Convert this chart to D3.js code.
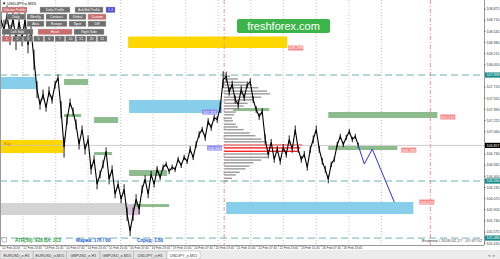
<!DOCTYPE html>
<html lang="ru">
<head>
<meta charset="UTF-8">
<title>USDJPY,e,M15</title>
<script src="https://d3js.org/d3.v7.min.js"></script>
<style>
  body { margin: 0; background: #fff; }
  svg { display: block; font-family: "Liberation Sans", Arial, sans-serif; }
</style>
</head>
<body>
<svg id="chart" width="500" height="259"></svg>
<script>
// closes sampled every 9 M15 bars
const closes = [
  108.713, 108.566, 108.787, 108.492, 108.742, 108.418, 108.683, 108.448, 108.713, 108.345,
  108.566, 108.124, 107.682, 107.461, 107.608, 107.417, 107.652, 107.534, 107.755, 107.858,
  107.387, 106.827, 107.240, 107.490, 107.358, 107.166, 106.871, 107.092, 106.798, 106.945,
  106.503, 106.650, 106.282, 106.429, 106.577, 106.768, 106.356, 106.503, 106.135, 106.282,
  106.061, 106.208, 105.840, 105.590, 105.840, 106.061, 105.914, 106.208, 106.356, 106.135,
  106.429, 106.282, 106.503, 106.385, 106.533, 106.577, 106.474, 106.533, 106.503, 106.650,
  106.562, 106.680, 106.621, 106.798, 106.680, 106.871, 107.019, 107.092, 106.975, 107.210,
  107.122, 107.269, 107.240, 107.417, 107.829, 107.873, 107.652, 107.755, 107.534, 107.461,
  107.682, 107.564, 107.755, 107.800, 107.534, 107.387, 107.284, 107.358, 106.945, 106.724,
  106.901, 106.650, 106.798, 106.621, 106.827, 106.724, 106.945, 106.798, 107.092, 106.798,
  106.650, 106.724, 106.533, 106.798, 106.945, 107.092, 106.798, 106.621, 106.503, 106.356,
  106.577, 106.650, 106.871, 106.989, 106.871, 106.975, 107.063, 106.945, 106.989, 106.857
];
// high-low span of each 9-bar block
const spans = [
  0.25, 0.30, 0.28, 0.30, 0.25, 0.30, 0.28, 0.25, 0.30, 0.25,
  0.20, 0.30, 0.25, 0.15, 0.15, 0.12, 0.15, 0.12, 0.12, 0.10,
  0.25, 0.30, 0.15, 0.12, 0.12, 0.15, 0.15, 0.12, 0.15, 0.12,
  0.15, 0.12, 0.15, 0.12, 0.12, 0.12, 0.15, 0.12, 0.12, 0.12,
  0.12, 0.15, 0.20, 0.15, 0.20, 0.15, 0.15, 0.12, 0.12, 0.12,
  0.10, 0.10, 0.10, 0.08, 0.08, 0.08, 0.08, 0.08, 0.08, 0.08,
  0.08, 0.08, 0.08, 0.10, 0.08, 0.10, 0.10, 0.08, 0.10, 0.10,
  0.10, 0.10, 0.10, 0.15, 0.25, 0.15, 0.12, 0.12, 0.12, 0.12,
  0.12, 0.10, 0.10, 0.10, 0.10, 0.10, 0.10, 0.10, 0.15, 0.12,
  0.10, 0.10, 0.10, 0.10, 0.10, 0.10, 0.12, 0.10, 0.12, 0.10,
  0.10, 0.10, 0.10, 0.10, 0.12, 0.12, 0.10, 0.10, 0.10, 0.12,
  0.08, 0.08, 0.08, 0.08, 0.08, 0.08, 0.08, 0.08, 0.08, 0.08
];
const sampleStep = 9;

const priceTicks = [108.875, 108.710, 108.545, 108.380, 108.215, 108.050, 107.885, 107.720,
  107.555, 107.390, 107.225, 107.060, 106.895, 106.730, 106.565, 106.400, 106.235, 106.070,
  105.905, 105.740, 105.575, 105.410];

const timeLabels = ["12 Feb 2018", "12 Feb 23:45", "13 Feb 15:45", "14 Feb 07:45", "14 Feb 23:45",
  "15 Feb 15:45", "16 Feb 07:45", "16 Feb 23:45", "19 Feb 15:45", "20 Feb 07:45", "20 Feb 23:45",
  "21 Feb 15:45", "22 Feb 07:45", "22 Feb 23:45", "23 Feb 15:45", "26 Feb 07:45", "26 Feb 23:45"];
const barsPerLabel = 64;
const dayLines = [66, 164, 261, 359, 456, 554, 651, 749, 846, 945, 1043, 1140];
const sessionLines = [669, 1287];

// zones: [fromBar, toBar, high, low]
const grayZones = [[-3, 381, 106.004, 105.826]];
const thistleZones = [[381, 417, 105.989, 105.826]];
const yellowZones = [[381, 858, 108.468, 108.298], [-3, 186, 106.936, 106.744]];
const blueZones = [[-3, 105, 107.869, 107.691], [384, 663, 107.528, 107.336], [675, 1236, 106.019, 105.841]];
const greenZones = [[189, 261, 107.839, 107.750], [189, 240, 107.321, 107.277], [279, 351, 107.277, 107.188],
  [279, 333, 106.759, 106.714], [384, 498, 106.493, 106.404], [396, 504, 105.989, 105.945],
  [696, 804, 107.410, 107.365], [981, 1308, 107.351, 107.262], [981, 1188, 106.848, 106.788]];

// zone price tags
const redTags = [[861, 108.298], [1317, 107.277], [1200, 106.788], [1254, 106.019]];
const blueTags = [[603, 107.351], [618, 106.818]];

// volume profile of the last session
const profilePrices = [107.88, 107.84, 107.79, 107.75, 107.71, 107.66, 107.62, 107.57, 107.53, 107.48,
  107.44, 107.40, 107.35, 107.31, 107.26, 107.22, 107.17, 107.13, 107.09, 107.04, 107.00, 106.95,
  106.91, 106.86, 106.82, 106.77, 106.73, 106.68, 106.64, 106.60, 106.55, 106.51, 106.46, 106.42,
  106.37, 106.33];
const profileVolumes = [6, 14, 22, 28, 35, 44, 47, 38, 30, 24, 20, 16, 12, 10, 8, 9, 12, 14, 20, 26,
  32, 38, 44, 80, 78, 76, 47, 44, 38, 30, 26, 22, 16, 12, 8, 4];
const pocLevel = 60;

// forecast path
const forecastBars = [1071, 1089, 1113, 1179];
const forecastPrices = [106.857, 106.581, 106.803, 106.019];

const levelPrices = [107.898, 106.330, 105.486];

const svg = d3.select("#chart");
const plotRight = 484, plotBottom = 245;

const x = d3.scaleLinear().domain([0, barsPerLabel]).range([1, 22.35]);
const y = d3.scaleLinear().domain([108.875, 105.410]).range([9, 243.2]);

svg.append("rect").attr("width", 500).attr("height", 259).attr("fill", "#fff");

const plot = svg.append("g");
plot.append("clipPath").attr("id", "clip").append("rect")
  .attr("x", 0).attr("y", 0).attr("width", plotRight).attr("height", plotBottom);
const g = plot.append("g").attr("clip-path", "url(#clip)");

// day grid
g.selectAll(".day").data(dayLines).join("line")
  .attr("x1", d => x(d)).attr("x2", d => x(d)).attr("y1", 0).attr("y2", plotBottom)
  .attr("stroke", "#b4b4b4").attr("stroke-width", 0.8).attr("stroke-dasharray", "1,2");

// zones
function drawZones(list, color) {
  g.selectAll(null).data(list).join("rect")
    .attr("x", d => x(d[0])).attr("width", d => x(d[1]) - x(d[0]))
    .attr("y", d => y(d[2])).attr("height", d => y(d[3]) - y(d[2]))
    .attr("fill", color);
}
drawZones(grayZones, "#d3d3d3");
drawZones(thistleZones, "#d8bfd8");
drawZones(yellowZones, "#ffd700");
drawZones(blueZones, "#87ceeb");
drawZones(greenZones, "#8fbc8f");

// session lines
g.selectAll(".sess").data(sessionLines).join("line")
  .attr("x1", d => x(d)).attr("x2", d => x(d)).attr("y1", 0).attr("y2", plotBottom)
  .attr("stroke", "#ff8080").attr("stroke-width", 0.9).attr("stroke-dasharray", "4,2,1,2");

// volume profile
const vol = d3.scaleLinear().domain([0, 80]).range([0, 78]);
const base = x(sessionLines[0]);
g.selectAll(".vp").data(profilePrices).join("rect")
  .attr("x", base).attr("y", d => y(d) - 0.7)
  .attr("width", (d, i) => vol(profileVolumes[i])).attr("height", 1.4)
  .attr("fill", (d, i) => profileVolumes[i] > pocLevel ? "#ff2020" : "#9a9a9a");

// level lines
g.selectAll(".lvl").data(levelPrices).join("line")
  .attr("x1", 0).attr("x2", plotRight).attr("y1", d => y(d)).attr("y2", d => y(d))
  .attr("stroke", "#6fb3b3").attr("stroke-width", 1).attr("stroke-dasharray", "7,4");

// current price line
const last = closes[closes.length - 1];
g.append("line").attr("x1", 0).attr("x2", plotRight).attr("y1", y(last)).attr("y2", y(last))
  .attr("stroke", "#c0c0c0").attr("stroke-width", 0.8);

// price: block ranges + close line
g.selectAll(".bar").data(closes).join("line")
  .attr("x1", (d, i) => x(i * sampleStep)).attr("x2", (d, i) => x(i * sampleStep))
  .attr("y1", (d, i) => y(d + spans[i] / 2)).attr("y2", (d, i) => y(d - spans[i] / 2))
  .attr("stroke", "#000").attr("stroke-width", 0.9);
const line = d3.line().x((d, i) => x(i * sampleStep)).y(d => y(d));
g.append("path").datum(closes).attr("d", line)
  .attr("fill", "none").attr("stroke", "#000").attr("stroke-width", 1.1);

// forecast
g.append("path").datum(forecastBars.map((b, i) => [b, forecastPrices[i]]))
  .attr("d", d3.line().x(d => x(d[0])).y(d => y(d[1])))
  .attr("fill", "none").attr("stroke", "#3030ee").attr("stroke-width", 1);

// tags
function tag(list, fill) {
  const t = g.selectAll(null).data(list).join("g")
    .attr("transform", d => `translate(${x(d[0])},${y(d[1])})`);
  t.append("rect").attr("x", 0).attr("y", -2.5).attr("width", 15).attr("height", 5).attr("fill", fill);
  t.append("text").attr("x", 7.5).attr("y", 1.5).attr("text-anchor", "middle")
    .attr("font-size", 3.8).attr("fill", "#fff").text(d => d[1].toFixed(3));
}
tag(redTags, "#f58a8a");
tag(blueTags, "#8c8cf0");

g.append("text").attr("x", 4).attr("y", y(106.87)).attr("font-size", 4).attr("fill", "#e07000").text("Buy");

// watermark
const wm = svg.append("g").attr("transform", "translate(237,19)");
wm.append("rect").attr("width", 93).attr("height", 14).attr("rx", 2).attr("fill", "#3bb54a");
wm.append("text").attr("x", 46.5).attr("y", 10.5).attr("text-anchor", "middle")
  .attr("font-size", 11).attr("fill", "#fff").text("freshforex.com");

// frame
svg.append("line").attr("x1", plotRight + 0.5).attr("x2", plotRight + 0.5).attr("y1", 0).attr("y2", plotBottom)
  .attr("stroke", "#9a9a9a");
svg.append("line").attr("x1", 0).attr("x2", plotRight).attr("y1", plotBottom + 0.5).attr("y2", plotBottom + 0.5)
  .attr("stroke", "#9a9a9a");
svg.append("line").attr("x1", 0.5).attr("x2", 0.5).attr("y1", 0).attr("y2", plotBottom).attr("stroke", "#9a9a9a");

// price axis
const specials = levelPrices.concat([last]);
const ticks = priceTicks.filter(p => specials.every(s => Math.abs(y(s) - y(p)) > 3));
const ax = svg.append("g");
ax.selectAll(".pt").data(ticks).join("line")
  .attr("x1", plotRight).attr("x2", plotRight + 1.5).attr("y1", d => y(d)).attr("y2", d => y(d)).attr("stroke", "#666");
ax.selectAll(".pl").data(ticks).join("text")
  .attr("x", 499.5).attr("y", d => y(d) + 1.3).attr("text-anchor", "end")
  .attr("font-size", 3.6).attr("fill", "#333").text(d => d.toFixed(3));
const lab = ax.selectAll(".sl").data(specials).join("g")
  .attr("transform", d => `translate(${plotRight + 1},${y(d)})`);
lab.append("rect").attr("y", -2.6).attr("width", 15).attr("height", 5.2)
  .attr("fill", (d, i) => i === specials.length - 1 ? "#000" : "#1a8c8c");
lab.append("text").attr("x", 14.5).attr("y", 1.3).attr("text-anchor", "end")
  .attr("font-size", 3.6).attr("fill", "#fff").text(d => d.toFixed(3));

// time axis
const tx = svg.append("g");
tx.selectAll("line").data(timeLabels).join("line")
  .attr("x1", (d, i) => x(i * barsPerLabel)).attr("x2", (d, i) => x(i * barsPerLabel))
  .attr("y1", plotBottom).attr("y2", plotBottom + 1.5).attr("stroke", "#666");
tx.selectAll("text").data(timeLabels).join("text")
  .attr("x", (d, i) => x(i * barsPerLabel) + 1).attr("y", plotBottom + 4)
  .attr("font-size", 3.2).attr("fill", "#333").text(d => d);

// header and indicator buttons
svg.append("text").attr("x", 2).attr("y", 4.5).attr("font-size", 4.2).attr("fill", "#000").text("▼ USDJPY,e,M15");

const buttons = [
  [2, 7, 25, "Volume Profile", "r"], [40, 7, 30, "Delta Profile", "g"], [75, 7, 28, "Ask/Bid Profile", "g"],
  [106, 7, 9, "1-3", "b"],
  [7, 14, 18, "Daily", "g"], [27, 14, 17, "Weekly", "g"], [46, 14, 21, "Contract", "g"], [69, 14, 17, "Global", "g"],
  [88, 14, 18, "Custom", "r"],
  [27, 21, 17, "Asia", "g"], [46, 21, 21, "Europe", "g"], [69, 21, 17, "Nyse", "g"], [88, 21, 18, "Diff", "g"],
  [2, 29, 31, "Left Side", "g"], [38, 29, 34, "Heart", "r"], [74, 29, 30, "Right Side", "g"]
];
const sizes = ["1", "2", "3", "5", "6", "7", "10", "15", "20", "31"];
sizes.forEach((s, i) => buttons.push([2 + i * 10.6, 36, 9.6, s, i === 0 ? "r" : "g"]));
const colors = { r: "#c86c6c", g: "#6e6e6e", b: "#4a4ad0" };
const bt = svg.append("g").selectAll("g").data(buttons).join("g")
  .attr("transform", d => `translate(${d[0]},${d[1]})`);
bt.append("rect").attr("width", d => d[2]).attr("height", 5.6)
  .attr("fill", d => colors[d[4]]).attr("stroke", "#bdbdbd").attr("stroke-width", 0.4);
bt.append("text").attr("x", d => d[2] / 2).attr("y", 4).attr("text-anchor", "middle")
  .attr("font-size", 3.4).attr("fill", "#fff").text(d => d[3]);

// info line
const info = svg.append("g").attr("font-size", 4.6).attr("font-weight", "bold");
info.append("rect").attr("x", 2).attr("y", 237.5).attr("width", 4.5).attr("height", 4.5)
  .attr("fill", "#fff").attr("stroke", "#888").attr("stroke-width", 0.5);
info.append("text").attr("x", 15).attr("y", 242).attr("fill", "#2a9a3a").text("ATR(50): 928  Вл: 313");
info.append("text").attr("x", 76).attr("y", 242).attr("fill", "#1e64d2").text("Маржа: 176 / 88");
info.append("text").attr("x", 137).attr("y", 242).attr("fill", "#1e64d2").text("Спред: 1.60");
svg.append("text").attr("x", 482).attr("y", 242).attr("text-anchor", "end").attr("font-size", 4.2)
  .attr("fill", "#444").text("Вторник / 2018.02.27 - 07:47:52");

// tabs
svg.append("rect").attr("x", 0).attr("y", 250).attr("width", 500).attr("height", 9).attr("fill", "#ececec");
const tabs = ["EURUSD_e,H1", "EURUSD_e,M15", "GBPUSD_e,H1", "GBPUSD_e,M15", "USDJPY_e,H1", "USDJPY_e,M15"];
const tb = svg.append("g").selectAll("g").data(tabs).join("g")
  .attr("transform", (d, i) => `translate(${i * 33.4},251)`);
tb.append("rect").attr("width", 33).attr("height", 8)
  .attr("fill", (d, i) => i === tabs.length - 1 ? "#fff" : "#e4e4e4").attr("stroke", "#b0b0b0").attr("stroke-width", 0.5);
tb.append("text").attr("x", 16.5).attr("y", 5.5).attr("text-anchor", "middle").attr("font-size", 3.8)
  .attr("fill", "#333").text(d => d);
svg.append("text").attr("x", 496).attr("y", 257).attr("text-anchor", "end").attr("font-size", 4)
  .attr("fill", "#999").text("◄  ►");
</script>
</body>
</html>
